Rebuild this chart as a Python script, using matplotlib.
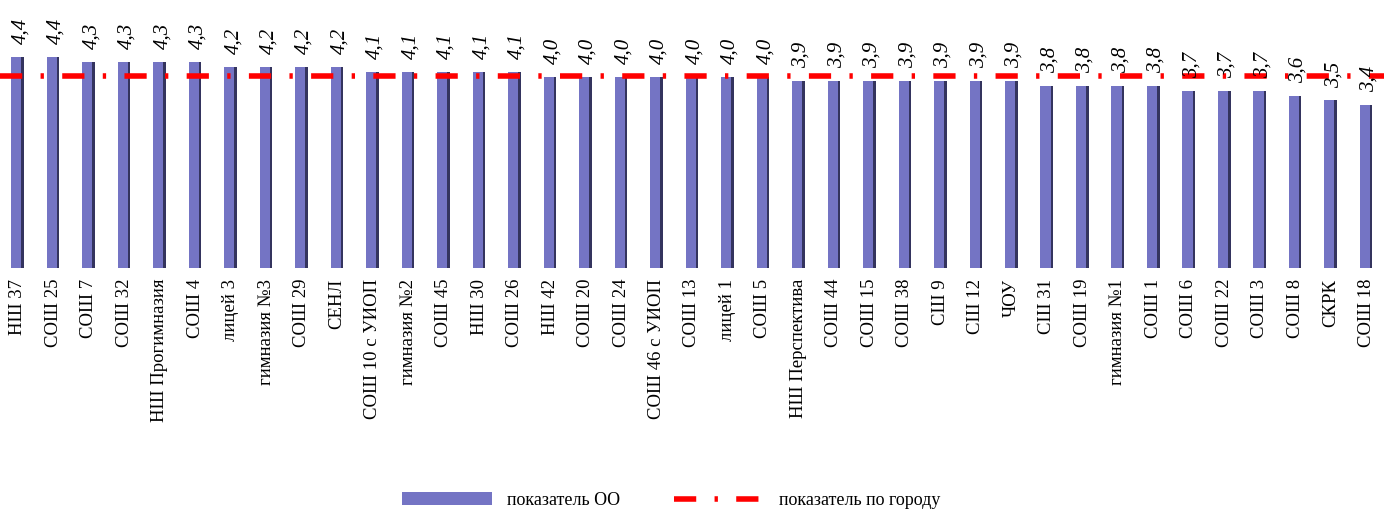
import matplotlib
matplotlib.use("Agg")
import matplotlib.pyplot as plt
import numpy as np

schools = ["НШ 37", "СОШ 25", "СОШ 7", "СОШ 32", "НШ Прогимназия", "СОШ 4", "лицей 3",
           "гимназия №3", "СОШ 29", "СЕНЛ", "СОШ 10 с УИОП", "гимназия №2", "СОШ 45",
           "НШ 30", "СОШ 26", "НШ 42", "СОШ 20", "СОШ 24", "СОШ 46 с УИОП", "СОШ 13",
           "лицей 1", "СОШ 5", "НШ Перспектива", "СОШ 44", "СОШ 15", "СОШ 38", "СШ 9",
           "СШ 12", "ЧОУ", "СШ 31", "СОШ 19", "гимназия №1", "СОШ 1", "СОШ 6", "СОШ 22",
           "СОШ 3", "СОШ 8", "СКРК", "СОШ 18"]
school_values = [4.4, 4.4, 4.3, 4.3, 4.3, 4.3, 4.2, 4.2, 4.2, 4.2, 4.1, 4.1, 4.1,
                 4.1, 4.1, 4.0, 4.0, 4.0, 4.0, 4.0, 4.0, 4.0, 3.9, 3.9, 3.9, 3.9, 3.9,
                 3.9, 3.9, 3.8, 3.8, 3.8, 3.8, 3.7, 3.7, 3.7, 3.6, 3.5, 3.4]
city_value = 4.02

plt.rcParams['font.family'] = ['Liberation Serif', 'DejaVu Serif']

fig = plt.figure(figsize=(13.84, 5.2), dpi=100)
ax = fig.add_axes([0.0, 0.485, 1.0, 0.515])

x = np.arange(len(schools))
ax.bar(x - 0.03, school_values, width=0.30, color='#7474C4', zorder=2,
       label='показатель ОО')
ax.bar(x + 0.14, school_values, width=0.07, color='#34345E', zorder=2)

ax.plot([-0.5, len(schools) - 0.5], [city_value, city_value], color='#FF0000',
        linewidth=4, linestyle=(0, (4, 3.3, 0.6, 3.3)), zorder=3,
        label='показатель по городу')

for xi, v in zip(x, school_values):
    ax.text(xi + 0.08, v + 0.27, f"{v:.1f}".replace('.', ','), rotation=90,
            ha='center', va='bottom', fontsize=15, fontstyle='italic')

ax.set_xlim(-0.5, len(schools) - 0.5)
ax.set_ylim(0, 5.6)
ax.set_xticks(x)
ax.set_xticklabels(schools, rotation=90, fontsize=13.5)
ax.tick_params(axis='x', length=0, pad=8)
ax.set_yticks([])
for s in ax.spines.values():
    s.set_visible(False)

handles, labels = ax.get_legend_handles_labels()
fig.legend(handles[::-1], labels[::-1], loc='lower center', ncol=2, frameon=False,
           fontsize=13, bbox_to_anchor=(0.485, -0.01), handlelength=5, columnspacing=3)

fig.savefig('out.png', dpi=100)
